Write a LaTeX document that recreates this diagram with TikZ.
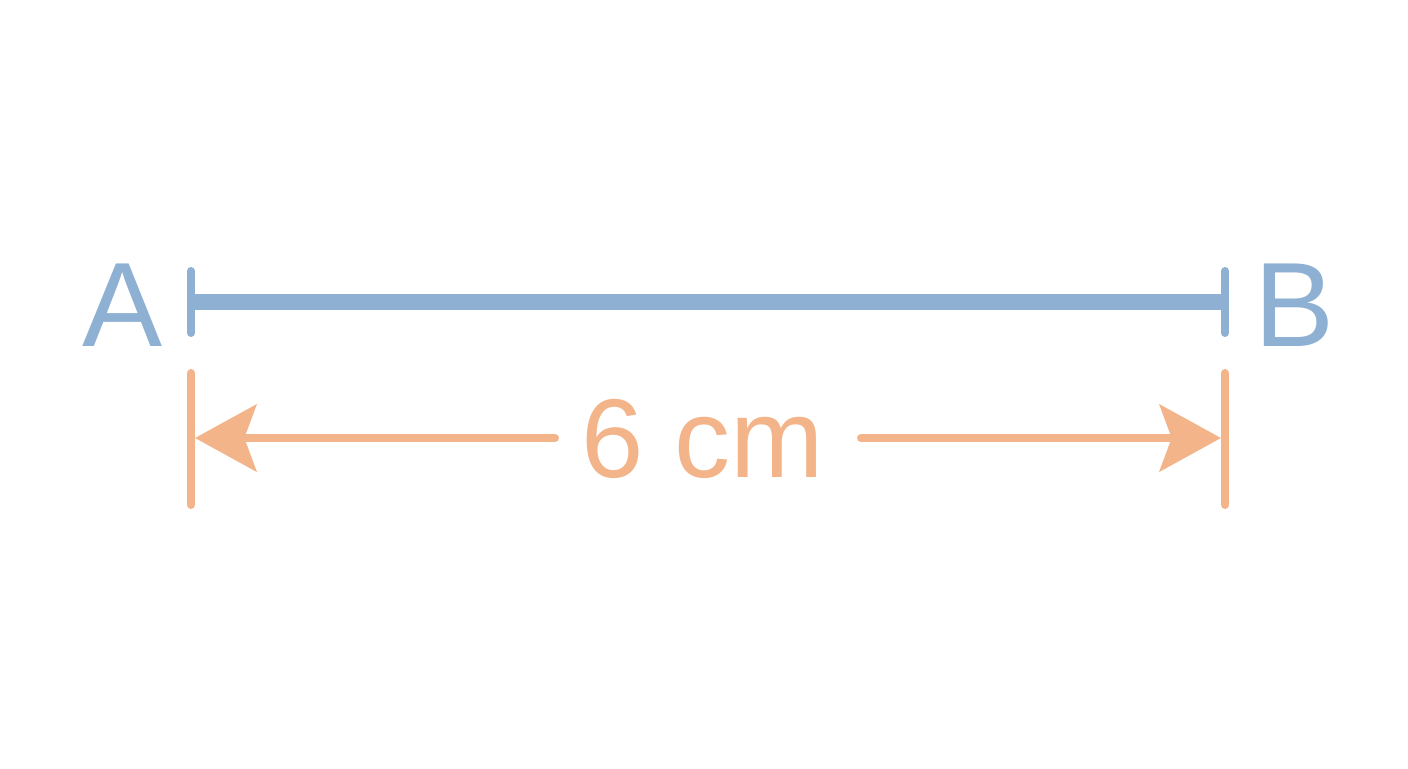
\documentclass[tikz,border=0pt]{standalone}
\usepackage{fontspec}
\setmainfont{Liberation Sans}
\usetikzlibrary{arrows.meta}
\definecolor{segblue}{RGB}{141,176,211}
\definecolor{dimorange}{RGB}{243,180,138}
\begin{document}
\begin{tikzpicture}[x=0.75pt,y=-0.75pt,
  segline/.style={draw=segblue,line width=12pt},
  segtick/.style={draw=segblue,line width=6pt,line cap=round},
  dimtick/.style={draw=dimorange,line width=6pt,line cap=round},
  dimarrow/.style={draw=dimorange,line width=6pt,line cap=round,
    -{Stealth[length=46pt,width=50pt,inset=9pt,line join=miter,line cap=butt,sep=0pt]}},
  ptlabel/.style={text=segblue,font=\fontsize{90}{90}\selectfont,inner sep=0pt,anchor=base},
  dimlabel/.style={text=dimorange,font=\fontsize{84}{84}\selectfont,inner sep=0pt,anchor=base}]
\useasboundingbox[fill=white] (0,0) rectangle (1408,768);
% points
\coordinate (pA) at (191,302);
\coordinate (pB) at (1225,302);
\coordinate (tAt) at (191,271);
\coordinate (tAb) at (191,333);
\coordinate (tBt) at (1225,271);
\coordinate (tBb) at (1225,333);
% segment
\draw[segline] (pA) -- (pB);
\draw[segtick] (tAt) -- (tAb);
\draw[segtick] (tBt) -- (tBb);
% labels
\node[ptlabel] (A) at (123,346) {A};
\node[ptlabel] (B) at (1294,346) {B};
% dimension ticks
\coordinate (dAt) at (191,373);
\coordinate (dAb) at (191,505);
\coordinate (dBt) at (1225,373);
\coordinate (dBb) at (1225,505);
\draw[dimtick] (dAt) -- (dAb);
\draw[dimtick] (dBt) -- (dBb);
% dimension label
\node[dimlabel] (len) at (703,477) {6 cm};
\coordinate (aL) at (555,438);
\coordinate (aR) at (861,438);
\coordinate (tipL) at (195,438);
\coordinate (tipR) at (1221,438);
\draw[dimarrow] (aL) -- (tipL);
\draw[dimarrow] (aR) -- (tipR);
\end{tikzpicture}
\end{document}
